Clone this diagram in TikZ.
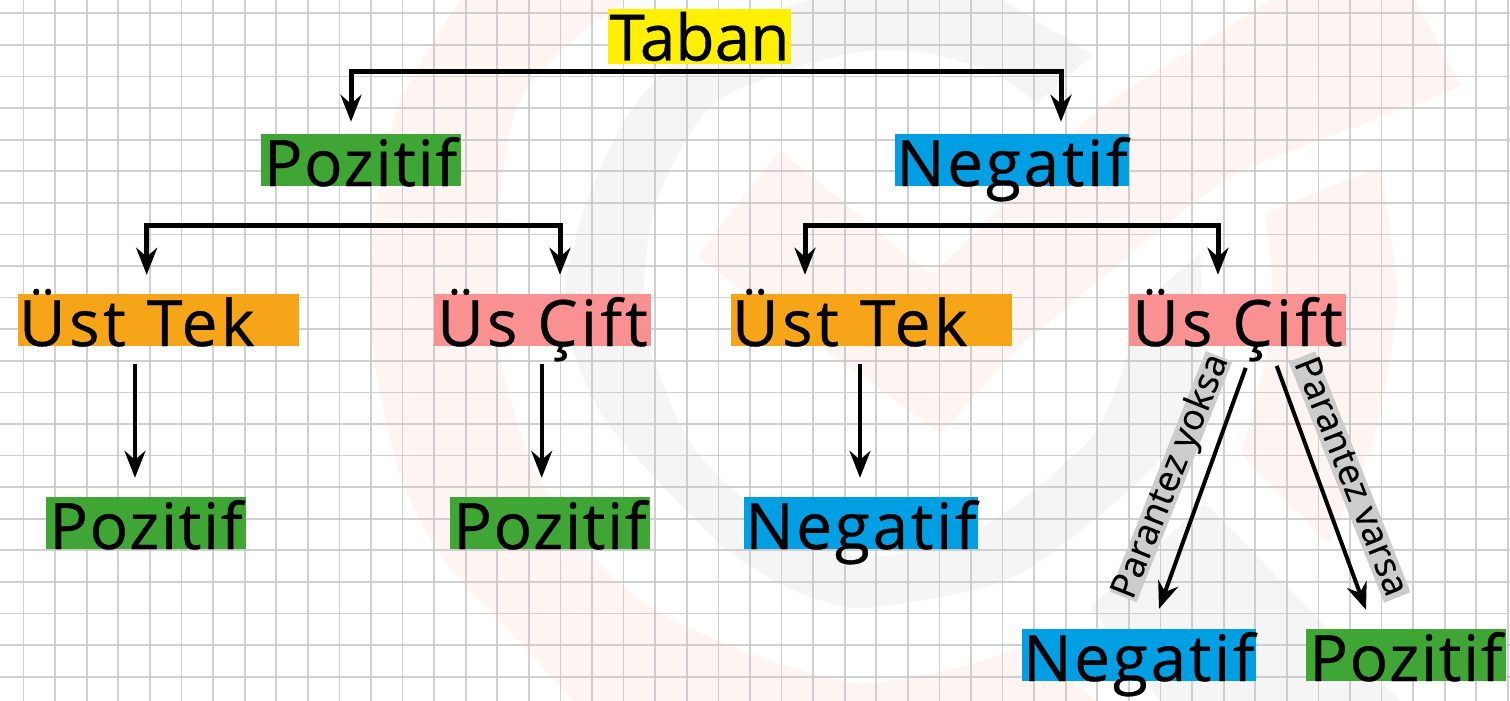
\documentclass[tikz,border=0pt]{standalone}
\usepackage{fontspec}
\setmainfont{Open Sans}[FakeBold=0.5]
\usetikzlibrary{arrows.meta, positioning}
\definecolor{tabancol}{HTML}{FFF000}
\definecolor{pozcol}{HTML}{3FA535}
\definecolor{negcol}{HTML}{009FE3}
\definecolor{tekcol}{HTML}{F6A519}
\definecolor{ciftcol}{HTML}{F99192}
\definecolor{etiketcol}{HTML}{CCCCCC}
\definecolor{gridcol}{HTML}{C8C8C8}
\definecolor{pembe}{HTML}{FEF4F1}
\definecolor{acikgri}{HTML}{F5F5F5}
\tikzstyle{kutu} = [
    rectangle,
    inner sep=0pt,
    text height=52pt,
    text depth=0pt,
    font=\fontsize{64}{64}\selectfont
]
\tikzstyle{taban} = [kutu, minimum width=183pt, text height=51.5pt, text depth=3.5pt, fill=tabancol]
\tikzstyle{poz} = [kutu, minimum width=200pt, fill=pozcol, execute at begin node=\addfontfeature{LetterSpace=2.6}]
\tikzstyle{neg} = [kutu, minimum width=234pt, fill=negcol, execute at begin node=\addfontfeature{LetterSpace=4.2}]
\tikzstyle{tek} = [kutu, text width=279pt, inner xsep=1pt, align=left, fill=tekcol, execute at begin node=\addfontfeature{LetterSpace=5.5}]
\tikzstyle{cift} = [kutu, minimum width=217pt, fill=ciftcol, execute at begin node=\addfontfeature{LetterSpace=5}]
\tikzstyle{etiket} = [
    rectangle,
    inner sep=0pt,
    minimum width=259pt,
    text height=24pt,
    text depth=4.5pt,
    fill=etiketcol,
    font=\fontsize{36}{36}\selectfont,
    execute at begin node=\addfontfeature{LetterSpace=1.5}
]
\tikzstyle{arrow} = [line width=5pt,-{Stealth[length=27pt,width=21pt,inset=9pt]}]
\tikzstyle{inceok} = [line width=4pt,-{Stealth[length=27pt,width=21pt,inset=9pt]}]
\tikzstyle{gridline} = [gridcol, line width=1.7pt, opacity=0.85]

\begin{document}
\begin{tikzpicture}[x=1pt, y=-1pt, node distance=160pt]

\useasboundingbox (0,0) rectangle (1510,701);
\fill[white] (0,0) rectangle (1510,701);

\begin{scope}
\clip (0,0) rectangle (1510,701);
\fill[pembe] plot[smooth] coordinates {(470,-15) (432,45) (398,107) (377,200) (371,293) (375,365) (403,483) (450,567) (527,650) (590,720)}
    -- (1120,720) -- plot[smooth] coordinates {(1030,645) (960,667) (860,683) (760,657) (660,613) (593,557) (533,467) (498,350) (498,293) (500,200) (517,107) (567,45) (640,-10)} -- cycle;
\fill[pembe, rounded corners=4pt] plot[smooth] coordinates {(1290,-10) (1127,90) (1073,133) (933,277)}
    -- (780,150) -- (697,257) -- (940,433) -- plot[smooth] coordinates {(1017,350) (1127,257) (1227,180) (1320,140) (1462,88)} -- (1415,0) -- (1400,-10) -- cycle;
\fill[pembe, rounded corners=4pt] (1265,213) -- (1380,167) -- plot[smooth] coordinates {(1380,167) (1397,293) (1383,397) (1370,447) (1330,545)}
    -- (1243,457) -- plot[smooth] coordinates {(1243,450) (1267,350) (1272,283) (1265,213)} -- cycle;
\fill[acikgri] plot[smooth] coordinates {(563,293) (587,200) (633,107) (693,48) (753,20) (830,-8)}
    -- (990,-8) -- (1093,55) -- (1037,103) -- plot[smooth] coordinates {(1037,103) (993,73) (927,53) (860,52) (790,70) (710,107) (657,200) (643,293) (650,350) (693,447) (760,510) (860,557) (977,530) (1083,447) (1110,403) (1130,347) (1147,300)}
    -- (1200,253) -- plot[smooth] coordinates {(1200,253) (1203,330) (1195,390) (1157,463) (1073,537) (1017,575) (960,593) (860,608) (793,590) (727,550) (660,483) (603,417) (573,350) (563,293)} -- cycle;
\fill[acikgri] (1090,607) -- (1205,503) -- (1400,701) -- (1160,701) -- cycle;
\end{scope}

\foreach \i in {0,...,47}
    \draw[gridline] ({23.6+31.58*\i},0) -- ({23.6+31.58*\i},701);
\foreach \i in {0,...,21}
    \draw[gridline] (0,{13.3+31.59*\i}) -- (1510,{13.3+31.59*\i});

\node (tabanust) [taban] at (699.5,36.5) {Taban};
\node (pozust) [poz, below of=tabanust, xshift=-339pt, yshift=36.5pt] {Pozitif};
\node (negust) [neg, below of=tabanust, xshift=312.5pt, yshift=36.5pt] {Negatif};

\node (tek1) [tek, below of=pozust, xshift=-202pt] {Üst Tek};
\node (cift1) [cift, below of=pozust, xshift=182pt] {Üs Çift};
\node (tek2) [tek, below of=negust, xshift=-140.5pt] {Üst Tek};
\node (cift2) [cift, below of=negust, xshift=225.5pt] {Üs Çift};

\node (poz1) [poz, below of=tek1, xshift=-12.5pt, yshift=-43pt] {Pozitif};
\node (poz2) [poz, below of=cift1, xshift=7.5pt, yshift=-43pt] {Pozitif};
\node (neg1) [neg, below of=tek2, xshift=-10.5pt, yshift=-43pt] {Negatif};
\node (neg2) [neg, below of=cift2, xshift=-98.5pt, yshift=-175pt] {Negatif};
\node (poz3) [poz, below of=cift2, xshift=168.5pt, yshift=-175pt] {Pozitif};

\coordinate (tabanbar) at ([yshift=-7pt]tabanust.south);
\coordinate (pozbar) at ([yshift=-39pt]pozust.south);
\coordinate (negbar) at ([yshift=-39pt]negust.south);

\draw[arrow, shorten >=12pt] (tabanbar) -| ([xshift=-9.5pt]pozust.north);
\draw[arrow, shorten >=12pt] (tabanbar) -| ([xshift=49pt]negust.north);
\draw[arrow, shorten >=19pt] (pozbar) -| ([xshift=-11.8pt]tek1.north);
\draw[arrow, shorten >=19pt] (pozbar) -| ([xshift=17.5pt]cift1.north);
\draw[arrow, shorten >=19pt] (negbar) -| ([xshift=-66.5pt]tek2.north);
\draw[arrow, shorten >=19pt] (negbar) -| ([xshift=-19.5pt]cift2.north);

\draw[inceok, shorten <=18pt, shorten >=19pt] ([xshift=-23.5pt]tek1.south) -- ([xshift=-11pt]poz1.north);
\draw[inceok, shorten <=18pt, shorten >=19pt] ([xshift=-0.8pt]cift1.south) -- ([xshift=-8.3pt]poz2.north);
\draw[inceok, shorten <=18pt, shorten >=19pt] ([xshift=-11.5pt]tek2.south) -- ([xshift=-1pt]neg1.north);

\draw[inceok] ([xshift=8.2pt,yshift=-21.7pt]cift2.south) -- node (yoksa) [etiket, midway, sloped, above=17pt, rotate=-1.9] {Parantez yoksa} ([xshift=20pt,yshift=20pt]neg2.north);
\draw[inceok] ([xshift=39.2pt,yshift=-19.7pt]cift2.south) -- node (varsa) [etiket, midway, sloped, above=14pt, rotate=1.5] {Parantez varsa} ([xshift=-40pt,yshift=19pt]poz3.north);

\end{tikzpicture}
\end{document}
